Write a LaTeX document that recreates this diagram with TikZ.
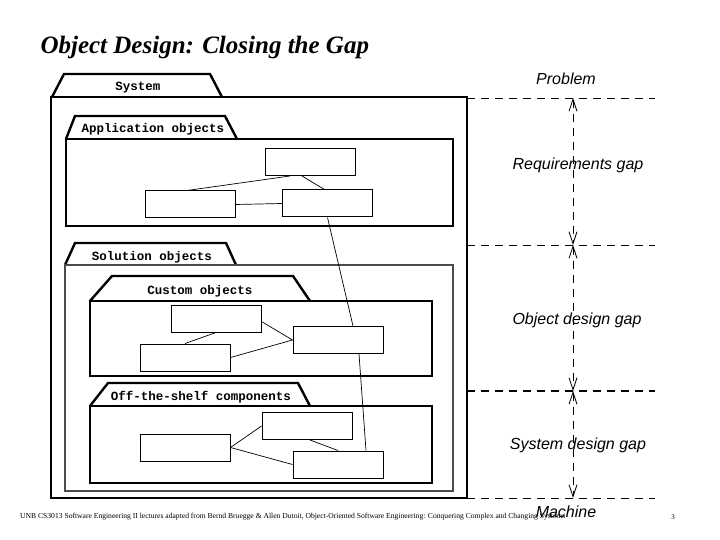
\documentclass[tikz,border=0pt]{standalone}
\usepackage{fontspec}
\setmainfont{Liberation Serif}
\setsansfont{Liberation Sans}
\setmonofont{Liberation Mono}
\usetikzlibrary{arrows.meta}
\tikzset{
 pkg/.style={draw,line width=2.4pt},
 tabtxt/.style={font=\ttfamily\bfseries\fontsize{12.5}{13}\selectfont},
 cls/.style={draw,line width=1pt,minimum width=90pt,minimum height=27pt,inner sep=0pt},
 lnk/.style={line width=0.7pt},
 gap/.style={dash pattern=on 8pt off 6pt,line width=0.8pt},
 gaptxt/.style={font=\sffamily\itshape\fontsize{16}{17}\selectfont,fill=none},
 gaparr/.style={gap,{Straight Barb[length=12pt,width=8pt]}-{Straight Barb[length=12pt,width=8pt]}}
}
\begin{document}
\begin{tikzpicture}[x=1pt,y=-1pt]
\useasboundingbox (0,0) rectangle (720,540);
\node[anchor=west,font=\bfseries\itshape\fontsize{25}{27}\selectfont] (title) at (37,47) {Object Design: Closing the Gap};
% System
\draw[pkg] (52,97) -- (64,74) -- (210,74) -- (222,97);
\node[tabtxt] (tsys) at (138,88) {System};
\draw[pkg] (51,97) rectangle (467,498);
% Application
\draw[pkg] (66,139) -- (75,116) -- (225,116) -- (237,139);
\node[tabtxt] (tapp) at (153,129) {Application objects};
\draw[pkg] (66,139) rectangle (453,226);
\node[cls] (a1) at (310,162) {};
\node[cls] (a2) at (190,204.5) {};
\node[cls] (a3) at (327.5,203.5) {};
% Solution
\draw[pkg] (65,265) -- (75,243) -- (226,243) -- (236,265);
\node[tabtxt] (tsol) at (152,257) {Solution objects};
\draw[line width=1.5pt,black!70] (65,265) -- (453,265) -- (453,491) -- (65,491) -- cycle;
% Custom
\draw[pkg] (90,301) -- (112,276) -- (293,276) -- (310,301);
\node[tabtxt] (tcus) at (200,291) {Custom objects};
\draw[pkg] (90,301) rectangle (432,376);
\node[cls] (c1) at (216,318.5) {};
\node[cls] (c2) at (185,357.5) {};
\node[cls] (c3) at (338,340) {};
% OTS
\draw[pkg] (90,406) -- (108,383) -- (298,383) -- (310,406);
\node[tabtxt] (tots) at (201,397) {Off-the-shelf components};
\draw[pkg] (90,406) rectangle (432,483);
\node[cls] (o1) at (307,426) {};
\node[cls] (o2) at (185,447.5) {};
\node[cls] (o3) at (338,464.5) {};
% links
\draw[lnk] ([xshift=-3pt]a2.north) -- ([xshift=-20pt]a1.south);
\draw[lnk] ([xshift=-8pt]a1.south) -- ([xshift=-3pt]a3.north);
\draw[lnk] (a2.east) -- (a3.west);
\draw[lnk] (a3.south) -- ([xshift=15pt]c3.north);
\draw[lnk] ([yshift=-3pt]c1.east) -- (c3.west);
\draw[lnk] (c1.south) -- (c2.north);
\draw[lnk] (c2.east) -- (c3.west);
\draw[lnk] ([xshift=21pt]c3.south) -- ([xshift=28pt]o3.north);
\draw[lnk] (o2.east) -- (o1.west);
\draw[lnk] (o2.east) -- (o3.west);
\draw[lnk] ([xshift=3pt]o1.south) -- (o3.north);
% gaps
\coordinate (g0l) at (467,98); \coordinate (g0r) at (655,98);
\coordinate (g1l) at (467,245); \coordinate (g1r) at (655,245);
\coordinate (g2l) at (467,391); \coordinate (g2r) at (655,391);
\coordinate (g3l) at (467,498); \coordinate (g3r) at (655,498);
\draw[gap] (g0l) -- (g0r);
\draw[gap] (g1l) -- (g1r);
\draw[gap,line width=1.4pt] (g2l) -- (g2r);
\draw[gap] (g3l) -- (g3r);
\coordinate (v0) at (573,98); \coordinate (v1) at (573,245);
\coordinate (v2) at (573,391); \coordinate (v3) at (573,498);
\draw[gaparr] (v0) -- (v1);
\draw[gaparr] (v1) -- (v2);
\draw[gaparr] (v2) -- (v3);
\node[gaptxt] (lp) at (566,79) {Problem};
\node[gaptxt] (lr) at (578,165) {Requirements gap};
\node[gaptxt] (lo) at (577,320) {Object design gap};
\node[gaptxt] (ls) at (578,445) {System design gap};
\node[gaptxt] (lm) at (566,512) {Machine};
\node[anchor=west,font=\fontsize{7.6}{8}\selectfont,inner sep=0pt] (foot) at (20,517) {UNB CS3013 Software Engineering II lectures adapted from Bernd Bruegge \& Allen Dutoit, Object-Oriented Software Engineering: Conquering Complex and Changing Systems};
\node[font=\fontsize{7}{8}\selectfont] (pg) at (673,517) {3};
\end{tikzpicture}
\end{document}
